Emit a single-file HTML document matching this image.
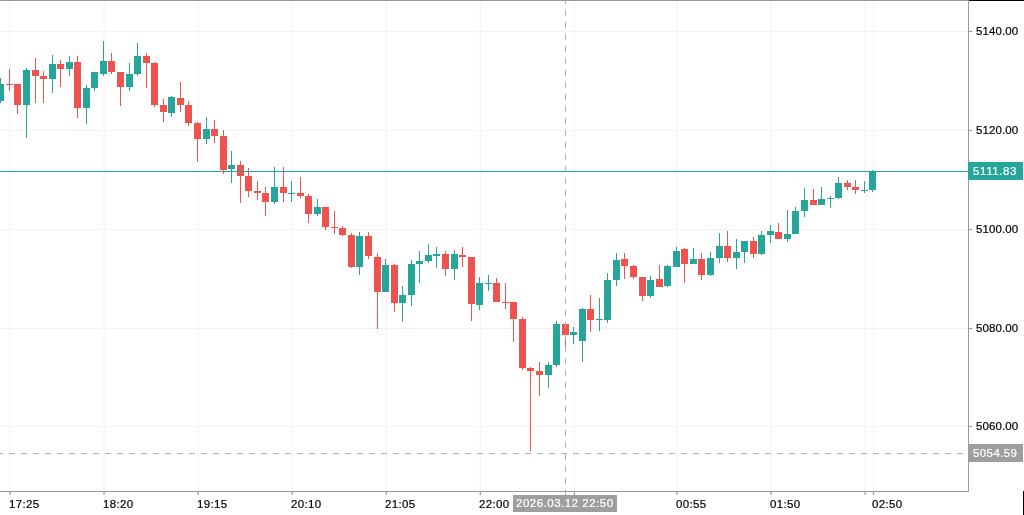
<!DOCTYPE html>
<html><head><meta charset="utf-8"><title>chart</title>
<style>
html,body{margin:0;padding:0;background:#fff;}
#c{position:relative;width:1024px;height:515px;overflow:hidden;background:#fff;font-family:"Liberation Sans",sans-serif;}
#c div,#c span{position:absolute;}
.yl,.xl{font-size:11.5px;line-height:18px;height:18px;color:#111;white-space:nowrap;letter-spacing:0.1px;will-change:transform;}
.pl span{left:5.3px;top:0;font-size:11.5px;line-height:18px;color:#fff;white-space:nowrap;letter-spacing:0.3px;will-change:transform;}
.tl span{left:3.3px;top:0;font-size:11.5px;line-height:17px;color:#fff;white-space:nowrap;letter-spacing:0.5px;will-change:transform;}
.xl{letter-spacing:0.35px}
.yl{letter-spacing:0.1px}
.xl,.yl{color:#000;-webkit-text-stroke:0.2px #000}
.pl span,.tl span{-webkit-text-stroke:0.2px #fff}
</style></head><body><div id="c">
<div style="left:9px;top:1px;width:1px;height:489px;background:#f9f8fa;"></div>
<div style="left:10px;top:1px;width:1px;height:489px;background:#f9f8fa;"></div>
<div style="left:103px;top:1px;width:1px;height:489px;background:#faf8fb;"></div>
<div style="left:104px;top:1px;width:1px;height:489px;background:#f8f7f9;"></div>
<div style="left:197px;top:1px;width:1px;height:489px;background:#faf9fb;"></div>
<div style="left:198px;top:1px;width:1px;height:489px;background:#f8f6f9;"></div>
<div style="left:291px;top:1px;width:1px;height:489px;background:#fbfafc;"></div>
<div style="left:292px;top:1px;width:1px;height:489px;background:#f7f5f8;"></div>
<div style="left:385px;top:1px;width:1px;height:489px;background:#fbfbfc;"></div>
<div style="left:386px;top:1px;width:1px;height:489px;background:#f7f4f8;"></div>
<div style="left:479px;top:1px;width:1px;height:489px;background:#fcfbfd;"></div>
<div style="left:480px;top:1px;width:1px;height:489px;background:#f6f4f7;"></div>
<div style="left:573px;top:1px;width:1px;height:489px;background:#fdfcfd;"></div>
<div style="left:574px;top:1px;width:1px;height:489px;background:#f5f3f7;"></div>
<div style="left:676px;top:1px;width:1px;height:489px;background:#f8f6f9;"></div>
<div style="left:677px;top:1px;width:1px;height:489px;background:#faf9fb;"></div>
<div style="left:770px;top:1px;width:1px;height:489px;background:#f8f7fa;"></div>
<div style="left:771px;top:1px;width:1px;height:489px;background:#faf8fa;"></div>
<div style="left:864px;top:1px;width:1px;height:489px;background:#f9f8fa;"></div>
<div style="left:865px;top:1px;width:1px;height:489px;background:#f9f7fa;"></div>
<div style="left:873px;top:1px;width:1px;height:489px;background:#f4f1f6;"></div>
<div style="left:874px;top:1px;width:1px;height:489px;background:#fefefe;"></div>
<div style="left:0px;top:31px;width:968px;height:1px;background:#f5f2f6;"></div>
<div style="left:0px;top:130px;width:968px;height:1px;background:#f5f2f6;"></div>
<div style="left:0px;top:229px;width:968px;height:1px;background:#f5f2f6;"></div>
<div style="left:0px;top:328px;width:968px;height:1px;background:#f5f2f6;"></div>
<div style="left:0px;top:426px;width:968px;height:1px;background:#f5f2f6;"></div>
<div style="left:0px;top:78px;width:1px;height:25px;background:#26a69a;"></div>
<div style="left:-3px;top:84px;width:7px;height:17px;background:#26a69a;"></div>
<div style="left:9px;top:69px;width:1px;height:22px;background:#ef5350;"></div>
<div style="left:6px;top:84px;width:7px;height:1px;background:#ef5350;"></div>
<div style="left:17px;top:84px;width:1px;height:30px;background:#ef5350;"></div>
<div style="left:14px;top:84px;width:7px;height:21px;background:#ef5350;"></div>
<div style="left:26px;top:68px;width:1px;height:70px;background:#26a69a;"></div>
<div style="left:23px;top:70px;width:7px;height:35px;background:#26a69a;"></div>
<div style="left:35px;top:58px;width:1px;height:45px;background:#ef5350;"></div>
<div style="left:32px;top:70px;width:7px;height:6px;background:#ef5350;"></div>
<div style="left:43px;top:71px;width:1px;height:32px;background:#ef5350;"></div>
<div style="left:40px;top:76px;width:7px;height:3px;background:#ef5350;"></div>
<div style="left:52px;top:55px;width:1px;height:38px;background:#26a69a;"></div>
<div style="left:49px;top:64px;width:7px;height:15px;background:#26a69a;"></div>
<div style="left:60px;top:60px;width:1px;height:27px;background:#ef5350;"></div>
<div style="left:57px;top:64px;width:7px;height:5px;background:#ef5350;"></div>
<div style="left:69px;top:56px;width:1px;height:20px;background:#26a69a;"></div>
<div style="left:66px;top:62px;width:7px;height:7px;background:#26a69a;"></div>
<div style="left:77px;top:56px;width:1px;height:62px;background:#ef5350;"></div>
<div style="left:74px;top:62px;width:7px;height:46px;background:#ef5350;"></div>
<div style="left:86px;top:85px;width:1px;height:39px;background:#26a69a;"></div>
<div style="left:83px;top:88px;width:7px;height:20px;background:#26a69a;"></div>
<div style="left:94px;top:72px;width:1px;height:19px;background:#26a69a;"></div>
<div style="left:91px;top:72px;width:7px;height:16px;background:#26a69a;"></div>
<div style="left:103px;top:41px;width:1px;height:35px;background:#26a69a;"></div>
<div style="left:100px;top:61px;width:7px;height:13px;background:#26a69a;"></div>
<div style="left:111px;top:53px;width:1px;height:21px;background:#ef5350;"></div>
<div style="left:108px;top:61px;width:7px;height:11px;background:#ef5350;"></div>
<div style="left:120px;top:72px;width:1px;height:34px;background:#ef5350;"></div>
<div style="left:117px;top:72px;width:7px;height:15px;background:#ef5350;"></div>
<div style="left:129px;top:63px;width:1px;height:28px;background:#26a69a;"></div>
<div style="left:126px;top:74px;width:7px;height:13px;background:#26a69a;"></div>
<div style="left:137px;top:43px;width:1px;height:33px;background:#26a69a;"></div>
<div style="left:134px;top:56px;width:7px;height:18px;background:#26a69a;"></div>
<div style="left:146px;top:53px;width:1px;height:35px;background:#ef5350;"></div>
<div style="left:143px;top:56px;width:7px;height:7px;background:#ef5350;"></div>
<div style="left:154px;top:62px;width:1px;height:45px;background:#ef5350;"></div>
<div style="left:151px;top:63px;width:7px;height:42px;background:#ef5350;"></div>
<div style="left:163px;top:99px;width:1px;height:23px;background:#ef5350;"></div>
<div style="left:160px;top:105px;width:7px;height:7px;background:#ef5350;"></div>
<div style="left:171px;top:96px;width:1px;height:21px;background:#26a69a;"></div>
<div style="left:168px;top:97px;width:7px;height:16px;background:#26a69a;"></div>
<div style="left:180px;top:82px;width:1px;height:30px;background:#ef5350;"></div>
<div style="left:177px;top:98px;width:7px;height:7px;background:#ef5350;"></div>
<div style="left:188px;top:101px;width:1px;height:25px;background:#ef5350;"></div>
<div style="left:185px;top:105px;width:7px;height:18px;background:#ef5350;"></div>
<div style="left:197px;top:122px;width:1px;height:40px;background:#ef5350;"></div>
<div style="left:194px;top:123px;width:7px;height:16px;background:#ef5350;"></div>
<div style="left:206px;top:117px;width:1px;height:27px;background:#26a69a;"></div>
<div style="left:203px;top:129px;width:7px;height:10px;background:#26a69a;"></div>
<div style="left:214px;top:120px;width:1px;height:23px;background:#ef5350;"></div>
<div style="left:211px;top:129px;width:7px;height:7px;background:#ef5350;"></div>
<div style="left:223px;top:130px;width:1px;height:44px;background:#ef5350;"></div>
<div style="left:220px;top:136px;width:7px;height:34px;background:#ef5350;"></div>
<div style="left:231px;top:151px;width:1px;height:32px;background:#26a69a;"></div>
<div style="left:228px;top:165px;width:7px;height:4px;background:#26a69a;"></div>
<div style="left:240px;top:161px;width:1px;height:42px;background:#ef5350;"></div>
<div style="left:237px;top:165px;width:7px;height:11px;background:#ef5350;"></div>
<div style="left:248px;top:168px;width:1px;height:29px;background:#ef5350;"></div>
<div style="left:245px;top:176px;width:7px;height:15px;background:#ef5350;"></div>
<div style="left:257px;top:181px;width:1px;height:19px;background:#ef5350;"></div>
<div style="left:254px;top:191px;width:7px;height:2px;background:#ef5350;"></div>
<div style="left:265px;top:187px;width:1px;height:29px;background:#ef5350;"></div>
<div style="left:262px;top:193px;width:7px;height:9px;background:#ef5350;"></div>
<div style="left:274px;top:167px;width:1px;height:37px;background:#26a69a;"></div>
<div style="left:271px;top:187px;width:7px;height:15px;background:#26a69a;"></div>
<div style="left:283px;top:167px;width:1px;height:35px;background:#ef5350;"></div>
<div style="left:280px;top:187px;width:7px;height:6px;background:#ef5350;"></div>
<div style="left:291px;top:181px;width:1px;height:21px;background:#26a69a;"></div>
<div style="left:288px;top:193px;width:7px;height:1px;background:#26a69a;"></div>
<div style="left:300px;top:177px;width:1px;height:21px;background:#ef5350;"></div>
<div style="left:297px;top:193px;width:7px;height:3px;background:#ef5350;"></div>
<div style="left:308px;top:194px;width:1px;height:29px;background:#ef5350;"></div>
<div style="left:305px;top:196px;width:7px;height:18px;background:#ef5350;"></div>
<div style="left:317px;top:199px;width:1px;height:17px;background:#26a69a;"></div>
<div style="left:314px;top:207px;width:7px;height:7px;background:#26a69a;"></div>
<div style="left:325px;top:207px;width:1px;height:23px;background:#ef5350;"></div>
<div style="left:322px;top:207px;width:7px;height:20px;background:#ef5350;"></div>
<div style="left:334px;top:211px;width:1px;height:23px;background:#ef5350;"></div>
<div style="left:331px;top:227px;width:7px;height:1px;background:#ef5350;"></div>
<div style="left:342px;top:226px;width:1px;height:10px;background:#ef5350;"></div>
<div style="left:339px;top:228px;width:7px;height:7px;background:#ef5350;"></div>
<div style="left:351px;top:233px;width:1px;height:35px;background:#ef5350;"></div>
<div style="left:348px;top:235px;width:7px;height:32px;background:#ef5350;"></div>
<div style="left:359px;top:232px;width:1px;height:43px;background:#26a69a;"></div>
<div style="left:356px;top:236px;width:7px;height:31px;background:#26a69a;"></div>
<div style="left:368px;top:232px;width:1px;height:27px;background:#ef5350;"></div>
<div style="left:365px;top:236px;width:7px;height:20px;background:#ef5350;"></div>
<div style="left:377px;top:253px;width:1px;height:76px;background:#ef5350;"></div>
<div style="left:374px;top:257px;width:7px;height:35px;background:#ef5350;"></div>
<div style="left:385px;top:259px;width:1px;height:33px;background:#26a69a;"></div>
<div style="left:382px;top:265px;width:7px;height:27px;background:#26a69a;"></div>
<div style="left:394px;top:264px;width:1px;height:48px;background:#ef5350;"></div>
<div style="left:391px;top:265px;width:7px;height:38px;background:#ef5350;"></div>
<div style="left:402px;top:286px;width:1px;height:36px;background:#26a69a;"></div>
<div style="left:399px;top:295px;width:7px;height:8px;background:#26a69a;"></div>
<div style="left:411px;top:260px;width:1px;height:46px;background:#26a69a;"></div>
<div style="left:408px;top:264px;width:7px;height:31px;background:#26a69a;"></div>
<div style="left:419px;top:251px;width:1px;height:32px;background:#26a69a;"></div>
<div style="left:416px;top:261px;width:7px;height:3px;background:#26a69a;"></div>
<div style="left:428px;top:244px;width:1px;height:19px;background:#26a69a;"></div>
<div style="left:425px;top:255px;width:7px;height:6px;background:#26a69a;"></div>
<div style="left:436px;top:247px;width:1px;height:21px;background:#26a69a;"></div>
<div style="left:433px;top:254px;width:7px;height:2px;background:#26a69a;"></div>
<div style="left:445px;top:251px;width:1px;height:25px;background:#ef5350;"></div>
<div style="left:442px;top:254px;width:7px;height:15px;background:#ef5350;"></div>
<div style="left:454px;top:250px;width:1px;height:30px;background:#26a69a;"></div>
<div style="left:451px;top:254px;width:7px;height:15px;background:#26a69a;"></div>
<div style="left:462px;top:247px;width:1px;height:20px;background:#ef5350;"></div>
<div style="left:459px;top:255px;width:7px;height:2px;background:#ef5350;"></div>
<div style="left:471px;top:257px;width:1px;height:64px;background:#ef5350;"></div>
<div style="left:468px;top:257px;width:7px;height:47px;background:#ef5350;"></div>
<div style="left:479px;top:277px;width:1px;height:33px;background:#26a69a;"></div>
<div style="left:476px;top:283px;width:7px;height:22px;background:#26a69a;"></div>
<div style="left:488px;top:275px;width:1px;height:16px;background:#26a69a;"></div>
<div style="left:485px;top:283px;width:7px;height:1px;background:#26a69a;"></div>
<div style="left:496px;top:278px;width:1px;height:24px;background:#ef5350;"></div>
<div style="left:493px;top:283px;width:7px;height:19px;background:#ef5350;"></div>
<div style="left:505px;top:283px;width:1px;height:26px;background:#ef5350;"></div>
<div style="left:502px;top:302px;width:7px;height:1px;background:#ef5350;"></div>
<div style="left:513px;top:302px;width:1px;height:40px;background:#ef5350;"></div>
<div style="left:510px;top:302px;width:7px;height:17px;background:#ef5350;"></div>
<div style="left:522px;top:317px;width:1px;height:53px;background:#ef5350;"></div>
<div style="left:519px;top:319px;width:7px;height:49px;background:#ef5350;"></div>
<div style="left:530px;top:367px;width:1px;height:84px;background:#ef5350;"></div>
<div style="left:527px;top:368px;width:7px;height:3px;background:#ef5350;"></div>
<div style="left:539px;top:362px;width:1px;height:34px;background:#ef5350;"></div>
<div style="left:536px;top:371px;width:7px;height:4px;background:#ef5350;"></div>
<div style="left:548px;top:362px;width:1px;height:26px;background:#26a69a;"></div>
<div style="left:545px;top:365px;width:7px;height:10px;background:#26a69a;"></div>
<div style="left:556px;top:321px;width:1px;height:46px;background:#26a69a;"></div>
<div style="left:553px;top:324px;width:7px;height:41px;background:#26a69a;"></div>
<div style="left:565px;top:323px;width:1px;height:24px;background:#ef5350;"></div>
<div style="left:562px;top:324px;width:7px;height:11px;background:#ef5350;"></div>
<div style="left:573px;top:327px;width:1px;height:17px;background:#26a69a;"></div>
<div style="left:570px;top:332px;width:7px;height:3px;background:#26a69a;"></div>
<div style="left:582px;top:308px;width:1px;height:54px;background:#26a69a;"></div>
<div style="left:579px;top:309px;width:7px;height:32px;background:#26a69a;"></div>
<div style="left:590px;top:295px;width:1px;height:37px;background:#ef5350;"></div>
<div style="left:587px;top:309px;width:7px;height:11px;background:#ef5350;"></div>
<div style="left:599px;top:298px;width:1px;height:33px;background:#26a69a;"></div>
<div style="left:596px;top:319px;width:7px;height:1px;background:#26a69a;"></div>
<div style="left:607px;top:273px;width:1px;height:50px;background:#26a69a;"></div>
<div style="left:604px;top:280px;width:7px;height:40px;background:#26a69a;"></div>
<div style="left:616px;top:253px;width:1px;height:33px;background:#26a69a;"></div>
<div style="left:613px;top:260px;width:7px;height:20px;background:#26a69a;"></div>
<div style="left:624px;top:253px;width:1px;height:26px;background:#ef5350;"></div>
<div style="left:621px;top:259px;width:7px;height:7px;background:#ef5350;"></div>
<div style="left:633px;top:265px;width:1px;height:14px;background:#ef5350;"></div>
<div style="left:630px;top:266px;width:7px;height:11px;background:#ef5350;"></div>
<div style="left:642px;top:277px;width:1px;height:24px;background:#ef5350;"></div>
<div style="left:639px;top:277px;width:7px;height:19px;background:#ef5350;"></div>
<div style="left:650px;top:276px;width:1px;height:22px;background:#26a69a;"></div>
<div style="left:647px;top:280px;width:7px;height:16px;background:#26a69a;"></div>
<div style="left:659px;top:265px;width:1px;height:22px;background:#ef5350;"></div>
<div style="left:656px;top:279px;width:7px;height:8px;background:#ef5350;"></div>
<div style="left:667px;top:265px;width:1px;height:22px;background:#26a69a;"></div>
<div style="left:664px;top:266px;width:7px;height:20px;background:#26a69a;"></div>
<div style="left:676px;top:247px;width:1px;height:20px;background:#26a69a;"></div>
<div style="left:673px;top:251px;width:7px;height:16px;background:#26a69a;"></div>
<div style="left:684px;top:248px;width:1px;height:35px;background:#ef5350;"></div>
<div style="left:681px;top:249px;width:7px;height:15px;background:#ef5350;"></div>
<div style="left:693px;top:248px;width:1px;height:16px;background:#26a69a;"></div>
<div style="left:690px;top:259px;width:7px;height:5px;background:#26a69a;"></div>
<div style="left:701px;top:253px;width:1px;height:27px;background:#ef5350;"></div>
<div style="left:698px;top:259px;width:7px;height:16px;background:#ef5350;"></div>
<div style="left:710px;top:252px;width:1px;height:24px;background:#26a69a;"></div>
<div style="left:707px;top:258px;width:7px;height:17px;background:#26a69a;"></div>
<div style="left:719px;top:233px;width:1px;height:30px;background:#26a69a;"></div>
<div style="left:716px;top:246px;width:7px;height:12px;background:#26a69a;"></div>
<div style="left:727px;top:231px;width:1px;height:31px;background:#ef5350;"></div>
<div style="left:724px;top:246px;width:7px;height:12px;background:#ef5350;"></div>
<div style="left:736px;top:239px;width:1px;height:30px;background:#26a69a;"></div>
<div style="left:733px;top:252px;width:7px;height:6px;background:#26a69a;"></div>
<div style="left:744px;top:241px;width:1px;height:22px;background:#26a69a;"></div>
<div style="left:741px;top:241px;width:7px;height:11px;background:#26a69a;"></div>
<div style="left:753px;top:237px;width:1px;height:21px;background:#ef5350;"></div>
<div style="left:750px;top:241px;width:7px;height:13px;background:#ef5350;"></div>
<div style="left:761px;top:231px;width:1px;height:24px;background:#26a69a;"></div>
<div style="left:758px;top:235px;width:7px;height:19px;background:#26a69a;"></div>
<div style="left:770px;top:225px;width:1px;height:18px;background:#26a69a;"></div>
<div style="left:767px;top:231px;width:7px;height:4px;background:#26a69a;"></div>
<div style="left:778px;top:223px;width:1px;height:16px;background:#ef5350;"></div>
<div style="left:775px;top:232px;width:7px;height:7px;background:#ef5350;"></div>
<div style="left:787px;top:210px;width:1px;height:32px;background:#26a69a;"></div>
<div style="left:784px;top:234px;width:7px;height:5px;background:#26a69a;"></div>
<div style="left:795px;top:207px;width:1px;height:27px;background:#26a69a;"></div>
<div style="left:792px;top:211px;width:7px;height:23px;background:#26a69a;"></div>
<div style="left:804px;top:188px;width:1px;height:29px;background:#26a69a;"></div>
<div style="left:801px;top:200px;width:7px;height:11px;background:#26a69a;"></div>
<div style="left:813px;top:189px;width:1px;height:16px;background:#ef5350;"></div>
<div style="left:810px;top:200px;width:7px;height:5px;background:#ef5350;"></div>
<div style="left:821px;top:187px;width:1px;height:18px;background:#26a69a;"></div>
<div style="left:818px;top:199px;width:7px;height:6px;background:#26a69a;"></div>
<div style="left:830px;top:196px;width:1px;height:12px;background:#26a69a;"></div>
<div style="left:827px;top:198px;width:7px;height:1px;background:#26a69a;"></div>
<div style="left:838px;top:177px;width:1px;height:22px;background:#26a69a;"></div>
<div style="left:835px;top:183px;width:7px;height:15px;background:#26a69a;"></div>
<div style="left:847px;top:180px;width:1px;height:10px;background:#ef5350;"></div>
<div style="left:844px;top:183px;width:7px;height:4px;background:#ef5350;"></div>
<div style="left:855px;top:180px;width:1px;height:14px;background:#ef5350;"></div>
<div style="left:852px;top:187px;width:7px;height:3px;background:#ef5350;"></div>
<div style="left:864px;top:181px;width:1px;height:12px;background:#26a69a;"></div>
<div style="left:861px;top:190px;width:7px;height:1px;background:#26a69a;"></div>
<div style="left:872px;top:170px;width:1px;height:22px;background:#26a69a;"></div>
<div style="left:869px;top:171px;width:7px;height:19px;background:#26a69a;"></div>
<div style="left:0px;top:171px;width:968px;height:1px;background:#26a69a;"></div>
<div style="left:-3px;top:453px;width:971px;height:1px;background:repeating-linear-gradient(90deg,#b0b0b0 0,#b0b0b0 6px,transparent 6px,transparent 12px)"></div>
<div style="left:565px;top:-2px;width:1px;height:497px;background:repeating-linear-gradient(180deg,#b0b0b0 0,#b0b0b0 6px,transparent 6px,transparent 12px)"></div>
<div style="left:0px;top:0px;width:968px;height:1px;background:#999999;"></div>
<div style="left:968px;top:0px;width:56px;height:1px;background:#000;"></div>
<div style="left:968px;top:0px;width:1px;height:492px;background:#999999;"></div>
<div style="left:0px;top:491px;width:969px;height:1px;background:#999999;"></div>
<div style="left:1023px;top:491px;width:1px;height:24px;background:#000;"></div>
<div style="left:969px;top:31px;width:3px;height:1px;background:#999999;"></div>
<div style="left:969px;top:130px;width:3px;height:1px;background:#999999;"></div>
<div style="left:969px;top:229px;width:3px;height:1px;background:#999999;"></div>
<div style="left:969px;top:328px;width:3px;height:1px;background:#999999;"></div>
<div style="left:969px;top:426px;width:3px;height:1px;background:#999999;"></div>
<div style="left:9px;top:492px;width:1px;height:3px;background:#c4c4c4;"></div>
<div style="left:10px;top:492px;width:1px;height:3px;background:#c4c4c4;"></div>
<div style="left:103px;top:492px;width:1px;height:3px;background:#c9c9c9;"></div>
<div style="left:104px;top:492px;width:1px;height:3px;background:#bebebe;"></div>
<div style="left:197px;top:492px;width:1px;height:3px;background:#cfcfcf;"></div>
<div style="left:198px;top:492px;width:1px;height:3px;background:#b8b8b8;"></div>
<div style="left:291px;top:492px;width:1px;height:3px;background:#d5d5d5;"></div>
<div style="left:292px;top:492px;width:1px;height:3px;background:#b2b2b2;"></div>
<div style="left:385px;top:492px;width:1px;height:3px;background:#dbdbdb;"></div>
<div style="left:386px;top:492px;width:1px;height:3px;background:#acacac;"></div>
<div style="left:479px;top:492px;width:1px;height:3px;background:#e1e1e1;"></div>
<div style="left:480px;top:492px;width:1px;height:3px;background:#a6a6a6;"></div>
<div style="left:573px;top:492px;width:1px;height:3px;background:#e7e7e7;"></div>
<div style="left:574px;top:492px;width:1px;height:3px;background:#a0a0a0;"></div>
<div style="left:676px;top:492px;width:1px;height:3px;background:#b8b8b8;"></div>
<div style="left:677px;top:492px;width:1px;height:3px;background:#cfcfcf;"></div>
<div style="left:770px;top:492px;width:1px;height:3px;background:#bebebe;"></div>
<div style="left:771px;top:492px;width:1px;height:3px;background:#c9c9c9;"></div>
<div style="left:864px;top:492px;width:1px;height:3px;background:#c4c4c4;"></div>
<div style="left:865px;top:492px;width:1px;height:3px;background:#c3c3c3;"></div>
<div style="left:873px;top:492px;width:1px;height:3px;background:#8e8e8e;"></div>
<div style="left:874px;top:492px;width:1px;height:3px;background:#f9f9f9;"></div>
<span class="yl" style="left:975.5px;top:22px">5140.00</span>
<span class="yl" style="left:975.5px;top:121px">5120.00</span>
<span class="yl" style="left:975.5px;top:220px">5100.00</span>
<span class="yl" style="left:975.5px;top:319px">5080.00</span>
<span class="yl" style="left:975.5px;top:417px">5060.00</span>
<span class="xl" style="left:8.5px;top:495px">17:25</span>
<span class="xl" style="left:102.5px;top:495px">18:20</span>
<span class="xl" style="left:196.5px;top:495px">19:15</span>
<span class="xl" style="left:290.5px;top:495px">20:10</span>
<span class="xl" style="left:384.5px;top:495px">21:05</span>
<span class="xl" style="left:478.5px;top:495px">22:00</span>
<span class="xl" style="left:675.5px;top:495px">00:55</span>
<span class="xl" style="left:769.5px;top:495px">01:50</span>
<span class="xl" style="left:871.5px;top:495px">02:50</span>
<div class="pl" style="left:968px;top:162px;width:55px;height:18px;background:#26a69a"><span style="letter-spacing:0.6px">5111.83</span></div>
<div class="pl" style="left:968px;top:444px;width:55px;height:18px;background:#9e9e9e"><span style="letter-spacing:0.4px">5054.59</span></div>
<div class="tl" style="left:513px;top:495px;width:104px;height:17px;background:#9e9e9e"><span>2026.03.12 22:50</span></div>
</div></body></html>
